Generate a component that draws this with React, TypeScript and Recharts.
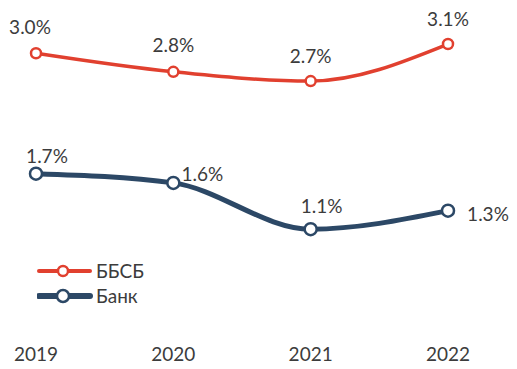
import { LineChart, Line, XAxis, YAxis, LabelList } from 'recharts';

const years = ['2019', '2020', '2021', '2022'];
const bbsbValues = [3.0, 2.8, 2.7, 3.1];
const bankValues = [1.7, 1.6, 1.1, 1.3];

const RED = '#e1402f';
const BLUE = '#2c4866';
const TEXT = '#3c3c3c';
const FONT = 'Lato, "Open Sans", sans-serif';

const data = years.map((year, i) => ({
  year,
  bbsb: bbsbValues[i],
  bank: bankValues[i],
}));

// label offsets relative to each point
const redOffsets = [
  [-6, -27],
  [0, -27],
  [0, -26],
  [0, -26],
];
const blueOffsets = [
  [11, -18],
  [29, -9],
  [11, -24],
  [40, 3],
];

function makeLabel(offsets: number[][]) {
  return (props: any) => {
    const { x, y, value, index } = props;
    const [dx, dy] = offsets[index] || [0, -20];
    return (
      <text
        x={x + dx}
        y={y + dy}
        textAnchor="middle"
        dominantBaseline="central"
        fill={TEXT}
        fontSize={19}
        fontFamily={FONT}
      >
        {value.toFixed(1)}%
      </text>
    );
  };
}

const legendItems = [
  { name: 'ББСБ', color: RED, width: 4, r: 5 },
  { name: 'Банк', color: BLUE, width: 6, r: 6 },
];

function ChartLegend() {
  return (
    <div
      style={{
        position: 'absolute',
        left: 37,
        top: 258,
        fontFamily: FONT,
        fontSize: 19,
        color: TEXT,
      }}
    >
      {legendItems.map((it) => (
        <div key={it.name} style={{ display: 'flex', alignItems: 'center', height: 25 }}>
          <svg width={56} height={16} style={{ display: 'block' }}>
            <line x1={2} y1={8} x2={53} y2={8} stroke={it.color} strokeWidth={it.width} strokeLinecap="round" />
            <circle cx={26} cy={8} r={it.r} fill="#fff" stroke={it.color} strokeWidth={2.5} />
          </svg>
          <span style={{ marginLeft: 3, lineHeight: '25px' }}>{it.name}</span>
        </div>
      ))}
    </div>
  );
}

export default function App() {
  return (
    <div style={{ margin: -8, width: 517, height: 369, background: '#fff', position: 'relative' }}>
      <LineChart
        width={517}
        height={369}
        data={data}
        margin={{ top: 7, right: 69, bottom: 0, left: 36 }}
      >
        <XAxis
          dataKey="year"
          axisLine={false}
          tickLine={false}
          tickSize={0}
          tickMargin={17}
          height={38}
          interval={0}
          tick={{ fill: TEXT, fontSize: 19, fontFamily: FONT }}
        />
        <YAxis hide domain={[0, 3.5]} />
        <Line
          type="monotone"
          dataKey="bbsb"
          name="ББСБ"
          stroke={RED}
          strokeWidth={3.5}
          dot={{ r: 5, fill: '#fff', stroke: RED, strokeWidth: 2.5 }}
          activeDot={false}
          isAnimationActive={false}
        >
          <LabelList dataKey="bbsb" content={makeLabel(redOffsets)} />
        </Line>
        <Line
          type="monotone"
          dataKey="bank"
          name="Банк"
          stroke={BLUE}
          strokeWidth={5}
          dot={{ r: 6, fill: '#fff', stroke: BLUE, strokeWidth: 2.5 }}
          activeDot={false}
          isAnimationActive={false}
        >
          <LabelList dataKey="bank" content={makeLabel(blueOffsets)} />
        </Line>
      </LineChart>
      <ChartLegend />
    </div>
  );
}
